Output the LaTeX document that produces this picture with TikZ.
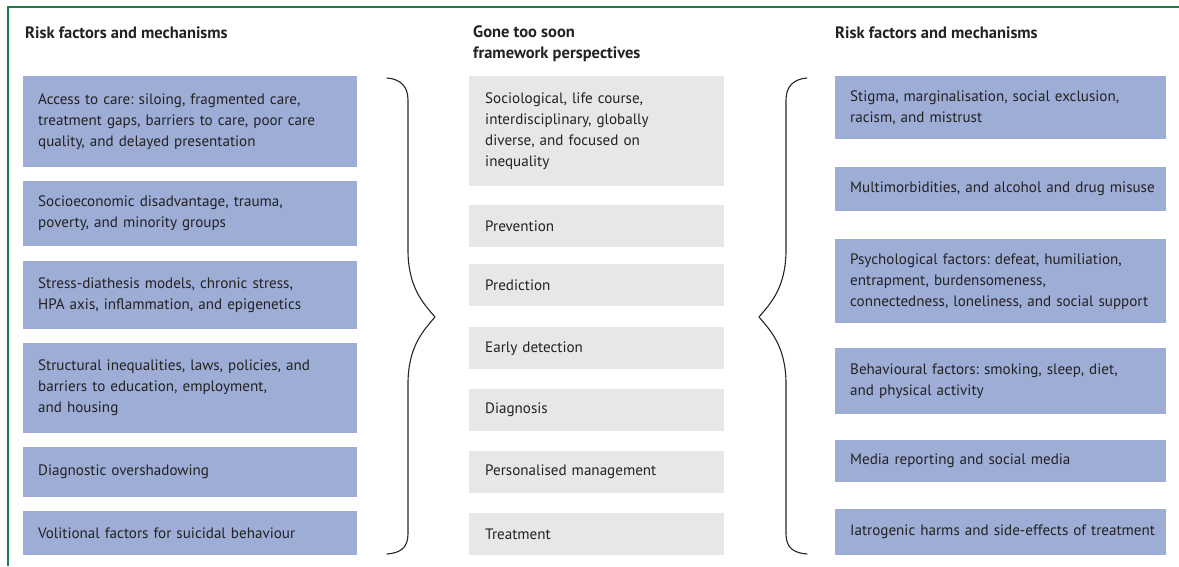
\documentclass[tikz,border=0pt]{standalone}
\usepackage{fontspec}
\setmainfont{PT Sans}
\begin{document}
\frenchspacing
\definecolor{riskblue}{HTML}{9DADD5}
\definecolor{perspgrey}{HTML}{E6E7E9}
\definecolor{framegreen}{HTML}{1E7A48}
\definecolor{inktext}{HTML}{222224}
\begin{tikzpicture}[x=1pt,y=-1pt,
  txt/.style={font=\fontsize{15.1}{21}\selectfont, text=inktext},
  head/.style={txt, font=\fontsize{16.5}{21}\selectfont\bfseries, anchor=west, align=left, inner sep=0pt},
  riskbox/.style={txt, fill=riskblue, anchor=north west, align=left, inner xsep=15pt, inner ysep=0pt},
  leftbox/.style={riskbox, text width=304pt},
  rightbox/.style={riskbox, text width=301pt},
  perspbox/.style={txt, fill=perspgrey, anchor=north west, align=left, inner xsep=16pt, inner ysep=0pt, text width=223pt},
  brace/.style={draw=black!85, line width=1.1pt, line cap=round, line join=round}
]
\useasboundingbox (0,0) rectangle (1179,566);

% frame lines
\draw[framegreen, line width=1.2pt] (8,566) -- (8,7) -- (1179,7);

% column headings
\node[head] (hl) at (25,33) {Risk factors and mechanisms};
\node[head, anchor=north west] (hm) at (473,26) {Gone too soon\\framework perspectives};
\node[head] (hr) at (835,33) {Risk factors and mechanisms};

% left column
\node[leftbox, minimum height=91pt] (l1) at (23,76) {Access to care: siloing, fragmented care,\\treatment gaps, barriers to care, poor care\\quality, and delayed presentation};
\node[leftbox, minimum height=65pt] (l2) at (23,181) {Socioeconomic disadvantage, trauma,\\poverty, and minority groups};
\node[leftbox, minimum height=68pt] (l3) at (23,261) {Stress-diathesis models, chronic stress,\\HPA axis, inflammation, and epigenetics};
\node[leftbox, minimum height=90pt] (l4) at (23,343) {\mbox{Structural inequalities, laws, policies, and}\\barriers to education, employment,\\and housing};
\node[leftbox, minimum height=50pt] (l5) at (23,447) {Diagnostic overshadowing};
\node[leftbox, minimum height=44pt] (l6) at (23,511) {Volitional factors for suicidal behaviour};

% middle column
\node[perspbox, minimum height=110pt] (m1) at (469,76) {Sociological, life course,\\interdisciplinary, globally\\diverse, and focused on\\inequality};
\node[perspbox, minimum height=42pt] (m2) at (469,205) {Prevention};
\node[perspbox, minimum height=42pt] (m3) at (469,264) {Prediction};
\node[perspbox, minimum height=42pt] (m4) at (469,327) {Early detection};
\node[perspbox, minimum height=42pt] (m5) at (469,389) {Diagnosis};
\node[perspbox, minimum height=42pt] (m6) at (469,451) {Personalised management};
\node[perspbox, minimum height=42pt] (m7) at (469,513) {Treatment};

% right column
\node[rightbox, minimum height=63pt] (r1) at (835,76) {Stigma, marginalisation, social exclusion,\\racism, and mistrust};
\node[rightbox, minimum height=44pt] (r2) at (835,167) {\mbox{Multimorbidities, and alcohol and drug misuse}};
\node[rightbox, minimum height=84pt] (r3) at (835,239) {Psychological factors: defeat, humiliation,\\entrapment, burdensomeness,\\\mbox{connectedness, loneliness, and social support}};
\node[rightbox, minimum height=66pt] (r4) at (835,348) {Behavioural factors: smoking, sleep, diet,\\and physical activity};
\node[rightbox, minimum height=42pt] (r5) at (835,440) {Media reporting and social media};
\node[rightbox, minimum height=46pt] (r6) at (835,509) {\mbox{Iatrogenic harms and side-effects of treatment}};

% left brace, pointing towards the perspectives
\coordinate (lbt) at (387,78);
\coordinate (lbtip) at (435,317);
\coordinate (lbb) at (387,554);
\draw[brace] (lbt) .. controls (400,79) and (408,86) .. (408,100)
  -- (408,250) .. controls (408,288) and (424,304) .. (lbtip)
  .. controls (424,330) and (408,346) .. (408,384)
  -- (408,534) .. controls (408,548) and (400,553) .. (lbb);

% right brace, mirrored
\coordinate (rbt) at (807,78);
\coordinate (rbtip) at (759,317);
\coordinate (rbb) at (807,554);
\draw[brace] (rbt) .. controls (794,79) and (786,86) .. (786,100)
  -- (786,250) .. controls (786,288) and (770,304) .. (rbtip)
  .. controls (770,330) and (786,346) .. (786,384)
  -- (786,534) .. controls (786,548) and (794,553) .. (rbb);
\end{tikzpicture}
\end{document}
